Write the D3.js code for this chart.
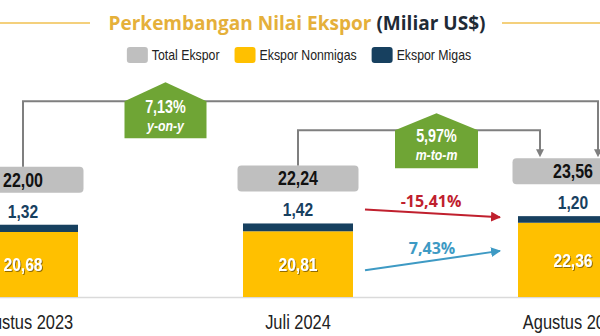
<!DOCTYPE html>
<html><head><meta charset="utf-8">
<script src="https://cdn.jsdelivr.net/npm/d3@7"></script>
<style>
html,body{margin:0;padding:0;background:#fff;}
svg{display:block;}
</style></head>
<body>
<svg id="chart" width="600" height="336"></svg>
<script>
// ---- data ----
const categories = ["Agustus 2023", "Juli 2024", "Agustus 2024"];
const totalEkspor = [22.00, 22.24, 23.56];
const nonmigas = [20.68, 20.81, 22.36];
const migas = [1.32, 1.42, 1.20];
const legendLabels = ["Total Ekspor", "Ekspor Nonmigas", "Ekspor Migas"];
const growthValues = [7.13, 5.97];          // y-on-y, m-to-m (total)
const growthLabels = ["y-on-y", "m-to-m"];
const componentChange = [-15.41, 7.43];     // migas, nonmigas (m-to-m)
const titleParts = ["Perkembangan Nilai Ekspor ", "(Miliar US$)"];

// ---- styles ----
const C = {gray:"#BFBFBF", yellow:"#FFC000", navy:"#17405F", green:"#6FA535",
  line:"#7F7F7F", gold:"#E5B03A", dark:"#1E2A36", red:"#C0202E", blue:"#3E9AC4"};
const NARROW = '"Liberation Sans Narrow","Arial Narrow","Liberation Sans",Arial,sans-serif';
const fmt = d3.formatLocale({decimal:",", thousands:".", grouping:[3], currency:["",""], minus:"-"});
const f2 = fmt.format(".2f");
// emulate a condensed face by compressing glyphs horizontally
function condense(sel, k = 0.82){
  sel.each(function(){
    const w = this.getComputedTextLength();
    d3.select(this).attr("textLength", w * k).attr("lengthAdjust","spacingAndGlyphs");
  });
  return sel;
}

const svg = d3.select("#chart");
const defs = svg.append("defs");
const sh = defs.append("filter").attr("id","shadow").attr("x","-20%").attr("y","-20%").attr("width","140%").attr("height","140%");
sh.append("feDropShadow").attr("dx",1).attr("dy",1).attr("stdDeviation",0.6)
  .attr("flood-color","#6b4f00").attr("flood-opacity",0.75);

// ---- scales ----
const x = d3.scalePoint().domain(categories).range([23, 573]);
const barW = 110;
const baseY = 297, pxPerUnit = 5.5, d0 = 8.86, d1 = 24;
const y = d3.scaleLinear().domain([d0, d1]).range([baseY, baseY - (d1 - d0) * pxPerUnit]);

// ---- title ----
const title = svg.append("text").attr("x", 297).attr("y", 30).attr("text-anchor","middle")
  .attr("font-family","'Open Sans',sans-serif").attr("font-weight",700).attr("font-size",19.5);
title.append("tspan").attr("fill",C.gold).text(titleParts[0]);
title.append("tspan").attr("fill",C.dark).text(titleParts[1]);
title.attr("textLength", 377).attr("lengthAdjust","spacingAndGlyphs");
svg.append("line").attr("x1",0).attr("x2",90).attr("y1",23).attr("y2",23)
  .attr("stroke","#F0C050").attr("stroke-width",1.6);
svg.append("line").attr("x1",502).attr("x2",600).attr("y1",23).attr("y2",23)
  .attr("stroke","#F0C050").attr("stroke-width",1.6);

// ---- legend ----
const legColors = [C.gray, C.yellow, C.navy];
const leg = svg.append("g");
let lx = 0;
legendLabels.forEach((lab, i) => {
  const g = leg.append("g").attr("transform", `translate(${lx},0)`);
  g.append("rect").attr("x",0).attr("y",47).attr("width",21).attr("height",16).attr("rx",3)
    .attr("fill", legColors[i]);
  const t = g.append("text").attr("x",25).attr("y",60).attr("font-family",NARROW)
    .attr("font-size",15).attr("fill","#222").text(lab);
  condense(t);
  lx += 25 + (+t.attr("textLength")) + 15;
});
const legW = lx - 15;
leg.attr("transform", `translate(${299 - legW/2},0)`);

// ---- baseline ----
svg.append("line").attr("x1",0).attr("x2",600).attr("y1",baseY + 0.5).attr("y2",baseY + 0.5)
  .attr("stroke","#DADADA").attr("stroke-width",1.5);

// ---- bars ----
const rows = categories.map((c,i)=>({c, total: totalEkspor[i], non: nonmigas[i], mig: migas[i]}));
const bars = svg.append("g");
bars.selectAll("rect.non").data(rows).join("rect").attr("class","non")
  .attr("x", d => x(d.c) - barW/2).attr("width", barW)
  .attr("y", d => y(d.non)).attr("height", d => y(d0) - y(d.non)).attr("fill", C.yellow);
bars.selectAll("rect.mig").data(rows).join("rect").attr("class","mig")
  .attr("x", d => x(d.c) - barW/2).attr("width", barW)
  .attr("y", d => y(d.non + d.mig)).attr("height", d => y(d.non) - y(d.non + d.mig)).attr("fill", C.navy);

// nonmigas labels
condense(bars.selectAll("text.non").data(rows).join("text").attr("class","non")
  .attr("x", d => x(d.c)).attr("y", d => (y(d.non) + y(d0))/2 + 7)
  .attr("text-anchor","middle").attr("font-family",NARROW).attr("font-weight",700)
  .attr("font-size",19).attr("fill","#fff").attr("filter","url(#shadow)")
  .text(d => f2(d.non)));
// migas labels
condense(bars.selectAll("text.mig").data(rows).join("text").attr("class","mig")
  .attr("x", d => x(d.c)).attr("y", d => y(d.non + d.mig) - 7)
  .attr("text-anchor","middle").attr("font-family",NARROW).attr("font-weight",700)
  .attr("font-size",19).attr("fill",C.navy)
  .text(d => f2(d.mig)));

// total boxes
const boxW = 121, boxH = 26, boxLift = 58;
const boxTop = d => y(d.non + d.mig) - boxLift;
bars.selectAll("rect.tot").data(rows).join("rect").attr("class","tot")
  .attr("x", d => x(d.c) - boxW/2).attr("y", boxTop).attr("width", boxW).attr("height", boxH)
  .attr("rx", 4).attr("fill", C.gray);
condense(bars.selectAll("text.tot").data(rows).join("text").attr("class","tot")
  .attr("x", d => x(d.c)).attr("y", d => boxTop(d) + 20)
  .attr("text-anchor","middle").attr("font-family",NARROW).attr("font-weight",700)
  .attr("font-size",19.5).attr("fill","#111")
  .text(d => f2(d.total)));

// x labels
condense(svg.selectAll("text.cat").data(categories).join("text").attr("class","cat")
  .attr("x", d => x(d)).attr("y", 329).attr("text-anchor","middle")
  .attr("font-family",NARROW).attr("font-size",20).attr("fill","#222").text(d => d));

// ---- growth connectors ----
const conn = svg.append("g");
const t0 = boxTop(rows[0]), t1 = boxTop(rows[1]), t2 = boxTop(rows[2]);
const yoyY = t2 - 57, mtmY = t2 - 28;
const yoyEndX = x(categories[2]) + 25, mtmEndX = x(categories[2]) - 33;
function arrowDown(px, py){
  conn.append("path").attr("d", `M${px-4},${py-8}L${px+4},${py-8}L${px},${py}Z`).attr("fill", C.line);
}
conn.append("path").attr("d", `M${x(categories[0])},${t0}V${yoyY}H${yoyEndX}V${t2-7}`)
  .attr("fill","none").attr("stroke",C.line).attr("stroke-width",2);
arrowDown(yoyEndX, t2 - 1);
conn.append("path").attr("d", `M${x(categories[1])},${t1}V${mtmY}H${mtmEndX}V${t2-7}`)
  .attr("fill","none").attr("stroke",C.line).attr("stroke-width",2);
arrowDown(mtmEndX, t2 - 1);

function house(cx, lineY, w, roof, below, val, lab){
  const g = conn.append("g");
  g.append("path").attr("d",
    `M${cx-w/2},${lineY}L${cx},${lineY-roof}L${cx+w/2},${lineY}V${lineY+below}H${cx-w/2}Z`)
    .attr("fill", C.green);
  condense(g.append("text").attr("x",cx).attr("y",lineY+12).attr("text-anchor","middle")
    .attr("font-family",NARROW).attr("font-weight",700).attr("font-size",17.5).attr("fill","#fff")
    .text(f2(val) + "%"));
  condense(g.append("text").attr("x",cx).attr("y",lineY+30).attr("text-anchor","middle")
    .attr("font-family",NARROW).attr("font-weight",700).attr("font-style","italic")
    .attr("font-size",15).attr("fill","#fff").text(lab));
}
house((x(categories[0]) + x(categories[1]))/2 + 5, yoyY, 82, 19, 37, growthValues[0], growthLabels[0]);
house((x(categories[1]) + x(categories[2]))/2 + 1, mtmY, 83, 17, 38, growthValues[1], growthLabels[1]);

// ---- component change arrows ----
const ax0 = x(categories[1]) + barW/2 + 12, ax1 = x(categories[2]) - barW/2 - 18;
const redY0 = y(rows[1].non + rows[1].mig) - 14, redY1 = y(rows[2].non + rows[2].mig) + 1;
const blueY0 = (y(rows[1].non) + y(d0))/2 + 6, blueY1 = (y(rows[2].non) + y(d0))/2 - 9;
defs.append("marker").attr("id","ar").attr("viewBox","0 0 10 10").attr("refX",9).attr("refY",5)
  .attr("markerWidth",5).attr("markerHeight",5).attr("orient","auto")
  .append("path").attr("d","M0,0L10,5L0,10Z").attr("fill", C.red);
defs.append("marker").attr("id","ab").attr("viewBox","0 0 10 10").attr("refX",9).attr("refY",5)
  .attr("markerWidth",5).attr("markerHeight",5).attr("orient","auto")
  .append("path").attr("d","M0,0L10,5L0,10Z").attr("fill", C.blue);
svg.append("line").attr("x1",ax0).attr("y1",redY0).attr("x2",ax1).attr("y2",redY1)
  .attr("stroke",C.red).attr("stroke-width",2).attr("marker-end","url(#ar)");
svg.append("line").attr("x1",ax0).attr("y1",blueY0).attr("x2",ax1).attr("y2",blueY1)
  .attr("stroke",C.blue).attr("stroke-width",2).attr("marker-end","url(#ab)");
svg.append("text").attr("x",431).attr("y",redY0 - 2).attr("text-anchor","middle")
  .attr("font-family","'Open Sans',sans-serif").attr("font-weight",700).attr("font-size",16)
  .attr("fill",C.red).text(f2(componentChange[0]) + "%");
svg.append("text").attr("x",432).attr("y",blueY0 - 16).attr("text-anchor","middle")
  .attr("font-family","'Open Sans',sans-serif").attr("font-weight",700).attr("font-size",16)
  .attr("fill",C.blue).text(f2(componentChange[1]) + "%");
</script>
</body></html>
